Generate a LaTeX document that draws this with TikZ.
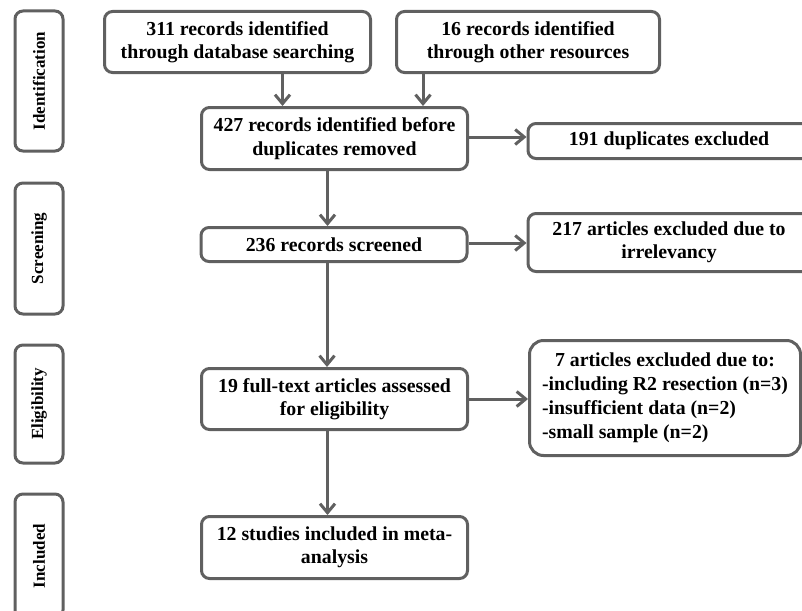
\documentclass[tikz,border=0pt]{standalone}
\usepackage{fontspec}
\setmainfont{Liberation Serif}
\usetikzlibrary{arrows.meta,positioning}
\definecolor{cLine}{RGB}{96,96,96}

\begin{document}
\begin{tikzpicture}[
  x=1pt, y=-1pt,
  font=\fontsize{19.8}{23.5}\selectfont\bfseries,
  flowbox/.style={rectangle, rounded corners=8pt, draw=cLine, line width=3pt,
    align=center, inner sep=2pt, minimum width=266pt},
  sidebox/.style={rectangle, rounded corners=8pt, draw=cLine, line width=3pt,
    minimum height=48pt, inner sep=2pt, rotate=90,
    font=\fontsize{17}{20}\selectfont\bfseries},
  flowar/.style={-{Straight Barb[length=9pt,width=15pt]}, line width=3pt, draw=cLine},
]
\useasboundingbox (0,0) rectangle (802,610);
% phases
\node[sidebox, minimum width=140pt] (pid) at (39,81) {Identification};
\node[sidebox, minimum width=131pt] (psc) at (39,248.5) {Screening};
\node[sidebox, minimum width=118pt] (pel) at (39,404) {Eligibility};
\node[sidebox, minimum width=124pt] (pin) at (39,556) {Included};
% main column
\node[flowbox, minimum height=61pt] (rec1) at (237.5,42) {311 records identified\\through database searching};
\node[flowbox, minimum width=263pt, minimum height=61pt] (rec2) at (528,42) {16 records identified\\through other resources};
\node[flowbox, minimum height=62pt] (dup) at (334.5,138.5) {427 records identified before\\duplicates removed};
\node[flowbox, minimum height=34pt] (scr) at (334,244.5) {236 records screened};
\node[flowbox, minimum height=61pt] (full) at (334.5,399) {19 full-text articles assessed\\for eligibility};
\node[flowbox, minimum height=62pt] (incl) at (334.5,547.5) {12 studies included in meta-\\analysis};
% excluded column
\node[flowbox, minimum width=282pt, minimum height=35pt] (dupx) at (669,141) {191 duplicates excluded};
\node[flowbox, minimum width=282pt, minimum height=58pt] (irr) at (669,242.5) {217 articles excluded due to\\irrelevancy};
\node[flowbox, minimum width=271pt, minimum height=115pt, rounded corners=14pt,
  font=\fontsize{19.8}{24}\selectfont\bfseries] (excl) at (665,398)
  {\begin{tabular}{@{}l@{}}\multicolumn{1}{@{}c@{}}{7 articles excluded due to:}\\
   -including R2 resection (n=3)\\-insufficient data (n=2)\\-small sample (n=2)\end{tabular}};
% arrows
\draw[flowar] ([xshift=45pt]rec1.south) -- ([xshift=45pt]rec1.south |- dup.north);
\draw[flowar] ([xshift=-105pt]rec2.south) -- ([xshift=-105pt]rec2.south |- dup.north);
\draw[flowar] ([xshift=-7pt]dup.south) -- ([xshift=-7pt]dup.south |- scr.north);
\draw[flowar] ([xshift=-7pt]scr.south) -- ([xshift=-7pt]scr.south |- full.north);
\draw[flowar] ([xshift=-7pt]full.south) -- ([xshift=-7pt]full.south |- incl.north);
\draw[flowar] ([yshift=1.5pt]dup.east) -- ([yshift=1.5pt]dup.east -| dupx.west);
\draw[flowar] ([yshift=1.5pt]scr.east) -- ([yshift=1.5pt]scr.east -| irr.west);
\draw[flowar] (full.east) -- (full.east -| excl.west);
\end{tikzpicture}
\end{document}
